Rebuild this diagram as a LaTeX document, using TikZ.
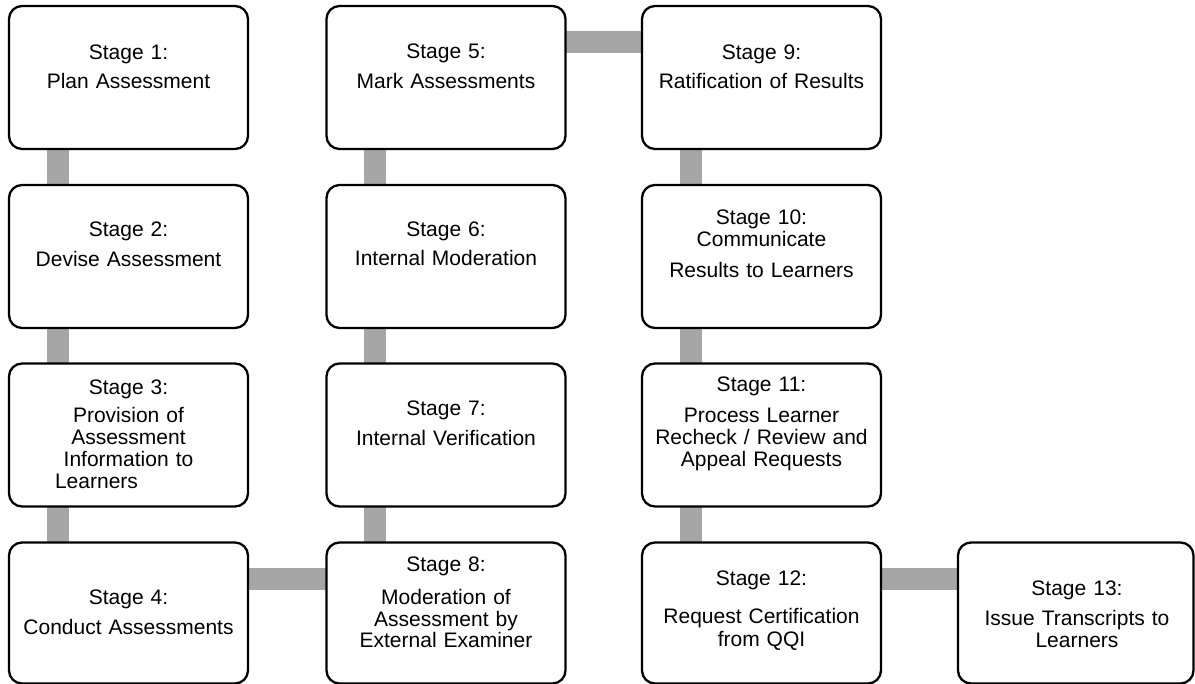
\documentclass[tikz,border=0pt]{standalone}
\usepackage{fontspec}
\setmainfont{Liberation Sans}
\usetikzlibrary{backgrounds}
\definecolor{conngray}{RGB}{166,166,166}
\begin{document}
\begin{tikzpicture}[x=1pt,y=-1pt,
  box/.style={draw=black, line width=2.3pt, rounded corners=13pt, fill=white,
    minimum width=239pt, minimum height=143pt, inner sep=0pt, outer sep=0pt},
  lbl/.style={text width=234pt, align=center, anchor=base, inner sep=0pt,
    font=\fontsize{21}{22}\selectfont},
  conn/.style={draw=conngray, line width=22pt}]
\useasboundingbox (0,0) rectangle (1195,684);

% boxes
\node[box] (b1) at (128.5,77.5) {};
\node[box] (b2) at (128.5,256.5) {};
\node[box] (b3) at (128.5,435) {};
\node[box, minimum height=141pt] (b4) at (128.5,613) {};
\node[box] (b5) at (446,77.5) {};
\node[box] (b6) at (446,256.5) {};
\node[box] (b7) at (446,435) {};
\node[box, minimum height=141pt] (b8) at (446,613) {};
\node[box] (b9) at (761.5,77.5) {};
\node[box] (b10) at (761.5,256.5) {};
\node[box] (b11) at (761.5,435) {};
\node[box, minimum height=141pt] (b12) at (761.5,613) {};
\node[box, minimum height=141pt, minimum width=235.5pt] (b13) at (1075.75,613) {};

% labels
\node[lbl] (t1) at (128.5,60) {Stage 1:\\[7pt]Plan Assessment};
\node[lbl] (t2) at (128.5,237) {Stage 2:\\[8pt]Devise Assessment};
\node[lbl] (t3) at (128.5,395) {Stage 3:\\[6pt]Provision of\\Assessment\\Information to\\Learners\rule{64pt}{0pt}};
\node[lbl] (t4) at (128.5,604) {Stage 4:\\[8pt]Conduct Assessments};
\node[lbl] (t5) at (446,59) {Stage 5:\\[8pt]Mark Assessments};
\node[lbl] (t6) at (446,237) {Stage 6:\\[7pt]Internal Moderation};
\node[lbl] (t7) at (446,416) {Stage 7:\\[8pt]Internal Verification};
\node[lbl] (t8) at (446,571) {Stage 8:\\[11pt]Moderation of\\Assessment by\\External Examiner};
\node[lbl] (t9) at (761.5,60) {Stage 9:\\[7pt]Ratification of Results};
\node[lbl] (t10) at (761.5,225) {Stage 10:\\Communicate\\[9pt]Results to Learners};
\node[lbl] (t11) at (761.5,392) {Stage 11:\\[9pt]Process Learner\\Recheck / Review and\\Appeal Requests};
\node[lbl] (t12) at (761.5,585) {Stage 12:\\[17pt]Request Certification\\from QQI};
\node[lbl] (t13) at (1077,595) {Stage 13:\\[8pt]Issue Transcripts to\\Learners};

% connectors
\begin{pgfonlayer}{background}
\draw[conn] ([xshift=48.5pt]b1.south west) -- ([xshift=48.5pt]b2.north west);
\draw[conn] ([xshift=48.5pt]b2.south west) -- ([xshift=48.5pt]b3.north west);
\draw[conn] ([xshift=48.5pt]b3.south west) -- ([xshift=48.5pt]b4.north west);
\draw[conn] ([yshift=-36pt]b4.north east) -- ([yshift=-36pt]b8.north west);
\draw[conn] ([xshift=48pt]b8.north west) -- ([xshift=48pt]b7.south west);
\draw[conn] ([xshift=48pt]b7.north west) -- ([xshift=48pt]b6.south west);
\draw[conn] ([xshift=48pt]b6.north west) -- ([xshift=48pt]b5.south west);
\draw[conn] ([yshift=-36pt]b5.north east) -- ([yshift=-36pt]b9.north west);
\draw[conn] ([xshift=49pt]b9.south west) -- ([xshift=49pt]b10.north west);
\draw[conn] ([xshift=49pt]b10.south west) -- ([xshift=49pt]b11.north west);
\draw[conn] ([xshift=49pt]b11.south west) -- ([xshift=49pt]b12.north west);
\draw[conn] ([yshift=-36pt]b12.north east) -- ([yshift=-36pt]b13.north west);
\end{pgfonlayer}
\end{tikzpicture}
\end{document}
